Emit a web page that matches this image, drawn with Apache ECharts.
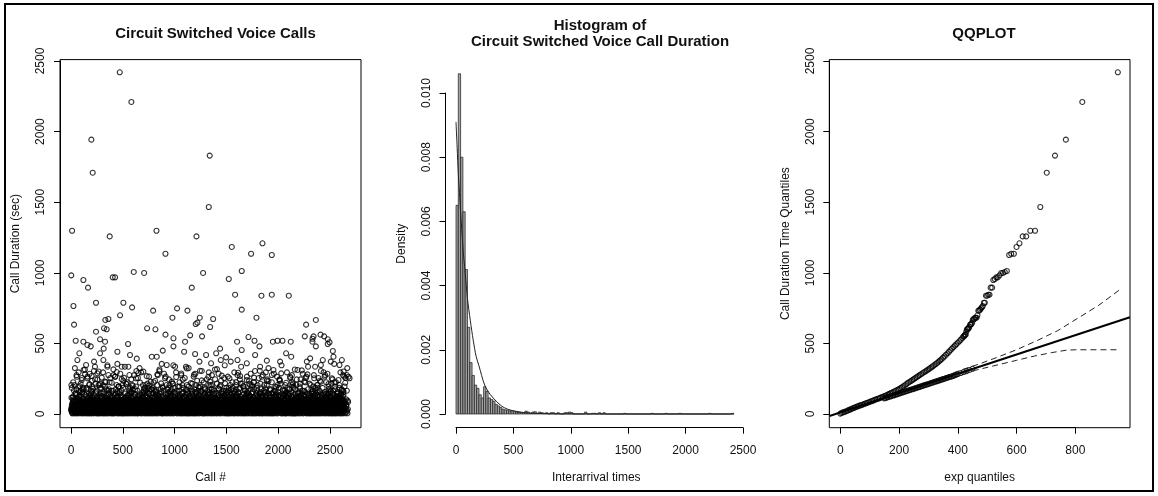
<!DOCTYPE html>
<html>
<head>
<meta charset="utf-8">
<script src="https://cdn.jsdelivr.net/npm/echarts@6/dist/echarts.min.js"></script>
<style>
  html, body { margin: 0; padding: 0; background: #fff; }
  #chart { width: 1158px; height: 496px; }
</style>
</head>
<body>
<div id="chart"></div>
<script>
// ---------------- data ----------------
// Call durations (sec), one base-36 digit per call: value = digit*10 + 5.
// evenCalls covers calls 1,3,5,...; oddCalls covers calls 2,4,6,...
const evenCalls = [
  "3k25170b49m2386143w50e2731r9624a0583t1c24d7395g28461p30f5a72h361",
  "42v5937081i2c46q3502b7184s692d30e5718n24639a17u2058x3146f27b930o",
  "5218k3647093l25e1i48c62730t954182a0j637m21b4958y0327d46h13592p8",
  "27490g3c51862r03a4718q295e6134b8z07253j6149f20s387c51946k2730n85",
  "1362x59a2048l7315m93b6027d4185i3625o0f4973h5128e3r60794a2513u86",
  "4820p1593c67w24a1835t062d7394b15g6273i8052k4916f37l2058e41q3692",
  "09374h2516b8i3027m4a9625n13d8742e0156r39c4281v5637a92f41z063j25",
  "6143s2807b59q236k41a8075e192o6348c2057d9h13624l87y3052f94a1728t3",
  "25g8301j4673a59m1c28046r7352e91b4i063857p2d419x3026k1f75380w6142",
  "3058b2791h46l3820c6q5194a27s063e4812n5793g1d5620a8j4317f29u54083",
  "7462m1305i9a2c8437o2815e4069t3d72b1856k3094r27f6385h1a4092v2673",
  "1593l0628a47s3d1295j6083n42b7c5139e2684p17y5036g2a49183f0q6254i8",
  "42805k3619b27e4m8301c592t46a0738h51d2946r30f85172i4o3a962x0548l1",
  "3716j2584a09g3b627d14q9530e8162n43c7258s0a946k31f52807m6h943u25",
  "50283i4791c36a2p5084e17l3926b0d4158r6703g29a4f861t3542k9o01732w5",
  "2694h3105b7e28m4630a9152s4c0873j61d2945q3a078f15i2469n53l1807y36",
  "48170g2536a94d3k5081c27t6349e1b5820h394p6a157f2r0863l42i95308v17",
  "3925k0471a62e38c1594j0287o5a36b4192s703d648g25f1m9374q06a2815x3",
  "16042l5830b7a2h4968c3015e7r2493d60i5172a8k3506f9p4128g3n0795u264",
  "7253i1948a06d3q5182b74e9036s2c815j4a7039h2f6143l5082o71g9a36z405",
  "2863m4017c5a92e6b1384k0529t73d16h482a05r3f9162j4708p3a561g2w0938"
];
const oddCalls = [
  "2b4i16307c5a2g84k9136e0d72h5381b49j26a03f7158l2c9406e3h17a52i86",
  "60381d4927h5a136b80254e1k79c3a061g82f5j4b09371d6285a34l9e16g027",
  "15a729063d4b8i1257c0a39e614k2856f307a16b429h5a08c136e2g7491m058",
  "c93128a56047bg1e93260d857h4a13k92f6c05178j4e2a69b301d5g174802i36",
  "47028ea316b95c24071d358a2h916g04f7382e5b16k94a0c27358d16h49j20a",
  "8153g6a02479c1ed38a26504b71926k3f840a5e1c73g692d4b08513i6a27e9h",
  "3a608152dh7194b6e03a27c85416g0f92a35k7a1d4086b2e953a7h14c02658i",
  "052g7b39146a82e5d0371c6h429a581fk3706b2e48d91a56l03c27481i5e3a9",
  "69314a0e7c285b31g649d20a75813e6k04f297a3c15b86042hd791a35e806j1",
  "248c59a16370e2bg594d8130a6h72514f9k0c3e8a26b74015id93a62e8g3471",
  "71603da82594b0eh716c32a84g051d962f3ka7e18b40c59h26a3d1708e4g52b",
  "39427ae150836c2b9d4h716a05k2a83e91f64b302g7a5d8c14693ei072a58d1",
  "80513ec69247a0d8h153b629a71g403e5f82c96ka1d37b05428e6h1a93c0l74",
  "1a73949d6025b8e3h071c469a258f03e1gb764d9a52kc0831e69j74a2b5038m",
  "52861ca0473e9d1g582b640a375e91f264ch08a3d7b15492k6e083a7c2d1n6",
  "0643a9e2518d7c0b49h2631a85e074f1936c2ga5b8d47e0613k92a4c85d2o7",
  "92157ba3306e48c1d2597a3g60e418f0c27i3b5a9d16h42e703518a6c94kb02",
  "487d02a61h93e5c0b7243a816e592f07c41l3d6a8b29e5g031744a6c2518d9p",
  "31590ae72h64c8d51b930a627e841f36c50j92a7b4d8g16e35094a2ck7d613",
  "67024ca935e1d8b06247a9113e582f40c71m6b3a9d258e4h06173a5c2gb490",
  "1834e6a207d59c3bh8162a470e935f18c24i6d0a7b359e16204a3c5gd726q"
];

// Longer calls: [call #, duration sec]
const longCalls = [
  [470,2420],[582,2210],[196,1943],[209,1709],[1338,1830],[1329,1466],[10,1298],[824,1298],
  [373,1258],[1210,1258],[1847,1209],[1551,1183],[1737,1135],[911,1135],[1937,1126],
  [1647,1013],[605,1006],[705,999],[1274,999],[2,982],[402,968],[425,968],[119,949],
  [1522,956],[164,895],[1165,895],[1583,845],[1837,838],[1937,845],[2101,838],[241,788],
  [505,788],[589,755],[23,765],[1647,739],[1023,748],[792,732],[1123,732],[473,699],
  [978,682],[1242,682],[1789,682],[331,666],[360,673],[1371,673],[29,633],[1203,637],
  [1219,647],[2268,633],[2362,666],[241,583],[318,607],[344,600],[734,607],[814,600],
  [1342,616],[1149,557],[1264,550],[911,562],[1712,545],[2407,562],[2340,550],[2442,550],
  [2255,550],[45,519],[119,512],[280,529],[158,489],[190,479],[328,512],[315,463],[550,496],
  [988,536],[988,479],[1100,512],[1438,463],[1602,512],[1770,519],[1818,479],[1947,512],
  [1992,519],[2040,519],[2120,512],[2329,512],[2362,479],[2477,496],[2526,446],[2494,508],
  [2477,529],[2330,533],
  [80,430],[61,382],[145,347],[222,371],[280,430],[312,382],[351,335],[409,316],[447,441],
  [489,335],[553,335],[569,418],[634,392],[698,300],[779,406],[827,406],[885,449],[923,347],
  [1004,335],[1091,441],[1116,323],[1197,425],[1239,371],[1303,418],[1351,359],[1400,430],
  [1445,382],[1496,401],[1541,371],[1606,382],[1647,453],[1696,359],[1776,418],[1824,335],
  [1889,378],[1953,312],[2017,371],[2075,430],[2124,406],[2185,312],[2275,371],[2307,394],
  [2355,335],[2410,347],[2429,382],[2506,371],[2532,406],[2590,347],[2613,382],[2661,276],
  [2687,253]
];
// Further calls in the 150-320 sec range: [call #, duration sec]
const midCalls = [
  [55,264],[103,241],[135,281],[158,253],[177,212],[199,269],[232,246],[254,288],[273,205],
  [296,258],[328,229],[360,276],[393,221],[425,264],[457,194],[489,247],[531,213],[563,276],
  [595,198],[627,253],[666,222],[705,182],[730,268],[769,229],[801,172],[833,281],[869,217],
  [907,253],[940,187],[972,229],[1014,262],[1046,194],[1078,244],[1116,170],[1155,219],
  [1187,279],[1229,194],[1261,238],[1293,175],[1326,264],[1364,205],[1390,246],[1422,182],
  [1454,272],[1486,217],[1528,253],[1560,186],[1593,226],[1631,269],[1663,198],[1696,241],
  [1734,174],[1766,258],[1799,205],[1840,264],[1873,182],[1905,233],[1937,276],[1979,190],
  [2011,241],[2043,172],[2075,221],[2114,264],[2146,194],[2178,245],[2210,182],[2249,229],
  [2281,281],[2313,205],[2346,253],[2378,186],[2410,229],[2452,276],[2484,213],[2516,253],
  [2548,194],[2580,241],[2613,170],[2645,221],[2677,264],
  [84,198],[121,312],[212,178],[266,301],[347,168],[441,297],[512,256],[648,290],[751,201],
  [852,304],[958,162],[1063,287],[1172,158],[1244,306],[1341,229],[1408,318],[1517,166],
  [1612,292],[1718,214],[1821,306],[1925,168],[2028,288],[2132,226],[2226,309],[2331,163],
  [2437,296],[2541,223],[2630,301]
];

// Histogram: bin width (sec) and density of each bin, from 0 up
const binWidth = 20;
const histDensity = [
  0.0065, 0.0106, 0.0080, 0.0063, 0.0045, 0.0027, 0.0016, 0.0012, 0.0009, 0.0008,
  0.0006, 0.0005, 0.00085, 0.0007, 0.0005, 0.00045, 0.0004, 0.0003, 0.00025, 0.0002,
  0.00015, 0.00013, 0.00012, 0.0001, 0.0001, 0.00008, 0.00006, 0.00006, 0.00004, 0.00004,
  0.00009, 0.00006, 0.00002, 0.00006, 0.00007, 0.00002, 0.00006, 0.00004, 0.00002, 0.00004,
  0, 0.00004, 0.00004, 0, 0.00004, 0, 0, 0.00004, 0.00004, 0.00006,
  0.00004, 0, 0, 0, 0, 0, 0.00006, 0, 0, 0.00002,
  0.00002, 0, 0.00004, 0, 0.00004, 0, 0, 0, 0, 0,
  0, 0, 0, 0.00002, 0, 0, 0, 0, 0, 0,
  0, 0, 0, 0, 0, 0.00002, 0, 0, 0, 0,
  0, 0.00002, 0, 0, 0, 0, 0, 0.00002, 0, 0,
  0, 0, 0, 0, 0, 0, 0, 0, 0, 0,
  0.00002, 0, 0, 0, 0, 0, 0, 0, 0, 0,
  0.00002
];

// Fitted exponential density curve: [sec, density]
const densityCurve = [
  [0,0.0091],[10,0.0083],[20,0.0075],[30,0.0069],[40,0.0063],[60,0.0052],[80,0.0044],
  [100,0.0036],[125,0.0029],[150,0.0023],[175,0.0018],[200,0.0015],[250,0.0009],
  [300,0.0006],[350,0.0004],[400,0.00024],[450,0.00015],[500,0.0001],[600,0.00004],
  [700,0.00002],[800,0.00001],[1000,0.000002],[1500,0],[2420,0]
];

// Q-Q: [exp quantile, call duration quantile]
const qqSample = [
  [945,2420],[824,2210],[768,1943],[731,1830],[703,1709],[681,1466],[663,1298],[647,1298],
  [633,1258],[621,1258],[610,1209],[600,1183],[591,1135],[582,1135],[575,1126],[567,1013],
  [560,1006],[554,999],[548,999],[542,982],[536,968],[531,968],[526,956],[521,949],
  [517,895],[512,895],[508,845],[504,845],[500,838],[496,838],[492,788],[489,788],
  [485,765],[482,755],[479,748],[476,739],[473,732],[470,732],[467,699],[464,682],
  [461,682],[459,682],[456,673],[454,673],[451,666],[449,647],[446,637],[444,633],
  [442,633],[439,616],[437,607],[435,607],[433,600],[431,600],[429,583],[427,562],
  [425,562],[423,557],[421,550],[419,548],
  [415,538],[410,526],[405,515],[400,505],[395,494],[390,484],[385,474],[380,463],
  [375,452],[370,441],[365,430],[360,420],[355,409],[350,399],[345,389],[340,380],
  [335,371],[330,362],[325,354],[320,346],[315,338],[310,331],[305,323],[300,316],
  [295,309],[290,302],[285,296],[280,289],[275,282],[270,275],[265,268],[260,261],
  [255,254],[250,247],[245,240],[240,233],[235,227],[230,220],[225,212],[220,204],
  [215,197],[210,190],[205,183],[200,176],[195,171],[190,166],[185,161],[180,156],
  [175,151],[170,146],[165,141],[160,136],[155,131],[150,127],[145,122],[140,118],
  [135,114],[130,110],[125,106],[120,102],[115,98],[110,94],[105,90],[100,86],
  [95,82],[90,78],[85,74],[80,70],[75,66],[70,62],[65,59],[60,55],[55,51],[50,47],
  [45,42],[40,38],[35,33],[30,29],[25,24],[20,20],[15,16],[10,12],[5,8],[0,3]
];
const qqReference = [
  [150,111],[155,114],[160,118],[165,121],[170,124],[175,128],[180,131],[185,134],
  [190,138],[195,141],[200,145],[205,148],[210,152],[215,155],[220,158],[225,162],
  [230,165],[235,169],[240,172],[245,175],[250,179],[255,182],[260,186],[265,189],
  [270,192],[275,196],[280,199],[285,203],[290,206],[295,209],[300,213],[305,216],
  [310,220],[315,223],[320,227],[325,230],[330,233],[335,237],[340,240],[345,244],
  [350,247],[355,250],[360,254],[365,257],[370,261],[375,264],[380,267],[385,271],
  [390,275],[395,279],[400,283],[410,290],[420,297],[430,304],[440,312],[450,320]
];
const qqLine = [[-37,-14],[986,685]];
const qqUpperBand = [[385,290],[420,318],[470,352],[530,398],[600,455],[670,520],[740,590],[810,680],[880,770],[950,878]];
const qqLowerBand = [[385,270],[430,295],[480,320],[540,350],[600,380],[660,410],[720,435],[770,452],[800,455],[950,455]];

// ---------------- chart ----------------
const FONT = '"Liberation Sans", Arial, Helvetica, sans-serif';
const BLACK = '#000';
const INK = '#111';

function decode(lines, first) {
  return lines.join('').split('').map((c, i) => [first + 2 * i, parseInt(c, 36) * 10 + 5]);
}
const callPoints = decode(evenCalls, 1).concat(decode(oddCalls, 2), midCalls, longCalls);
const histBins = histDensity.map((d, i) => [i * binWidth, (i + 1) * binWidth, d]);

const nameStyle = { fontSize: 12, color: INK, fontFamily: FONT };

// Axes that carry ticks and labels (they span only the labelled range)
function tickX(gridIndex, min, max, interval, offset) {
  return {
    gridIndex, type: 'value', min, max, interval, offset, position: 'bottom',
    axisLine: { show: true, onZero: false, lineStyle: { color: BLACK, width: 1 } },
    axisTick: { show: true, length: 6, lineStyle: { color: BLACK, width: 1 } },
    axisLabel: { fontSize: 12, color: INK, margin: 17, fontFamily: FONT,
      showMinLabel: true, showMaxLabel: true, formatter: v => String(v) },
    splitLine: { show: false }
  };
}
function tickY(gridIndex, min, max, interval, offset, fmt) {
  return {
    gridIndex, type: 'value', min, max, interval, offset, position: 'left',
    axisLine: { show: true, onZero: false, lineStyle: { color: BLACK, width: 1 } },
    axisTick: { show: true, length: 6, lineStyle: { color: BLACK, width: 1 } },
    axisLabel: { fontSize: 12, color: INK, margin: 13, rotate: 90, fontFamily: FONT,
      showMinLabel: true, showMaxLabel: true, formatter: fmt || (v => String(v)) },
    splitLine: { show: false }
  };
}
// Axes of the full plotting region: scale for the marks, plus the axis titles
function regionAxis(gridIndex, min, max, position, name, nameGap) {
  return {
    gridIndex, type: 'value', min, max, position, show: true,
    axisLine: { show: false, onZero: false }, axisTick: { show: false },
    axisLabel: { show: false }, splitLine: { show: false },
    name, nameLocation: 'middle', nameGap, nameTextStyle: nameStyle
  };
}
const boxGrid = { show: true, borderColor: BLACK, borderWidth: 1, backgroundColor: 'transparent' };
const ring = { color: 'rgba(0,0,0,0)', borderColor: BLACK, borderWidth: 1.1 };
const titleStyle = { fontSize: 15, fontWeight: 'bold', color: INK, fontFamily: FONT, lineHeight: 16 };

const option = {
  animation: false,
  backgroundColor: '#fff',
  textStyle: { fontFamily: FONT },
  title: [
    { text: 'Circuit Switched Voice Calls', left: 210.5, top: 21, textAlign: 'center', textStyle: titleStyle },
    { text: 'Histogram of\nCircuit Switched Voice Call Duration', left: 595, top: 13, textAlign: 'center', textStyle: titleStyle },
    { text: 'QQPLOT', left: 979, top: 21, textAlign: 'center', textStyle: titleStyle }
  ],
  graphic: [
    { type: 'rect', silent: true, shape: { x: 5, y: 4, width: 1148, height: 487 },
      style: { fill: 'none', stroke: BLACK, lineWidth: 2 } }
  ],
  grid: [
    { left: 71, top: 61, width: 259, height: 353 },
    Object.assign({ left: 60, top: 59.6, width: 301, height: 368.1 }, boxGrid),
    { left: 456, top: 93, width: 287, height: 321 },
    { left: 445.5, top: 59.6, width: 301.5, height: 368.1 },
    { left: 840.3, top: 61, width: 235, height: 353 },
    Object.assign({ left: 829.3, top: 59.6, width: 300.7, height: 368.1 }, boxGrid)
  ],
  xAxis: [
    tickX(0, 0, 2500, 500, 13.7),
    regionAxis(1, -106.6, 2797.6, 'bottom', 'Call #', 44),
    tickX(2, 0, 2500, 500, 13.7),
    regionAxis(3, -91.5, 2535, 'bottom', 'Interarrival times', 44),
    tickX(4, 0, 800, 200, 13.7),
    regionAxis(5, -37.45, 986.4, 'bottom', 'exp quantiles', 44)
  ],
  yAxis: [
    tickY(0, 0, 2500, 500, 11),
    regionAxis(1, -97, 2510, 'left', 'Call Duration (sec)', 38),
    tickY(2, 0, 0.010, 0.002, 10.5, v => v.toFixed(3)),
    regionAxis(3, -0.000427, 0.01104, 'left', 'Density', 38),
    tickY(4, 0, 2500, 500, 11),
    regionAxis(5, -97, 2510, 'left', 'Call Duration Time Quantiles', 38)
  ],
  series: [
    { type: 'scatter', xAxisIndex: 1, yAxisIndex: 1, symbol: 'circle', symbolSize: 5,
      itemStyle: ring, data: callPoints, silent: true, large: false },
    { type: 'custom', xAxisIndex: 3, yAxisIndex: 3, data: histBins, silent: true,
      encode: { x: [0, 1], y: 2 },
      renderItem: function (params, api) {
        const p0 = api.coord([api.value(0), api.value(2)]);
        const p1 = api.coord([api.value(1), 0]);
        return { type: 'rect',
          shape: { x: p0[0], y: p0[1], width: p1[0] - p0[0], height: p1[1] - p0[1] },
          style: { fill: '#a3a3a3', stroke: '#1a1a1a', lineWidth: 0.7 } };
      } },
    { type: 'line', xAxisIndex: 3, yAxisIndex: 3, data: densityCurve, smooth: 0.3,
      showSymbol: false, silent: true, lineStyle: { color: '#222', width: 1 } },
    { type: 'line', xAxisIndex: 5, yAxisIndex: 5, data: qqLine, showSymbol: false, silent: true,
      lineStyle: { color: BLACK, width: 2 } },
    { type: 'line', xAxisIndex: 5, yAxisIndex: 5, data: qqUpperBand, showSymbol: false, silent: true,
      lineStyle: { color: '#222', width: 1, type: [6, 4] } },
    { type: 'line', xAxisIndex: 5, yAxisIndex: 5, data: qqLowerBand, showSymbol: false, silent: true,
      lineStyle: { color: '#222', width: 1, type: [6, 4] } },
    { type: 'scatter', xAxisIndex: 5, yAxisIndex: 5, symbol: 'circle', symbolSize: 5,
      itemStyle: ring, data: qqReference, silent: true },
    { type: 'scatter', xAxisIndex: 5, yAxisIndex: 5, symbol: 'circle', symbolSize: 5,
      itemStyle: ring, data: qqSample, silent: true }
  ]
};

const chart = echarts.init(document.getElementById('chart'), null, { renderer: 'canvas' });
chart.setOption(option);
</script>
</body>
</html>
